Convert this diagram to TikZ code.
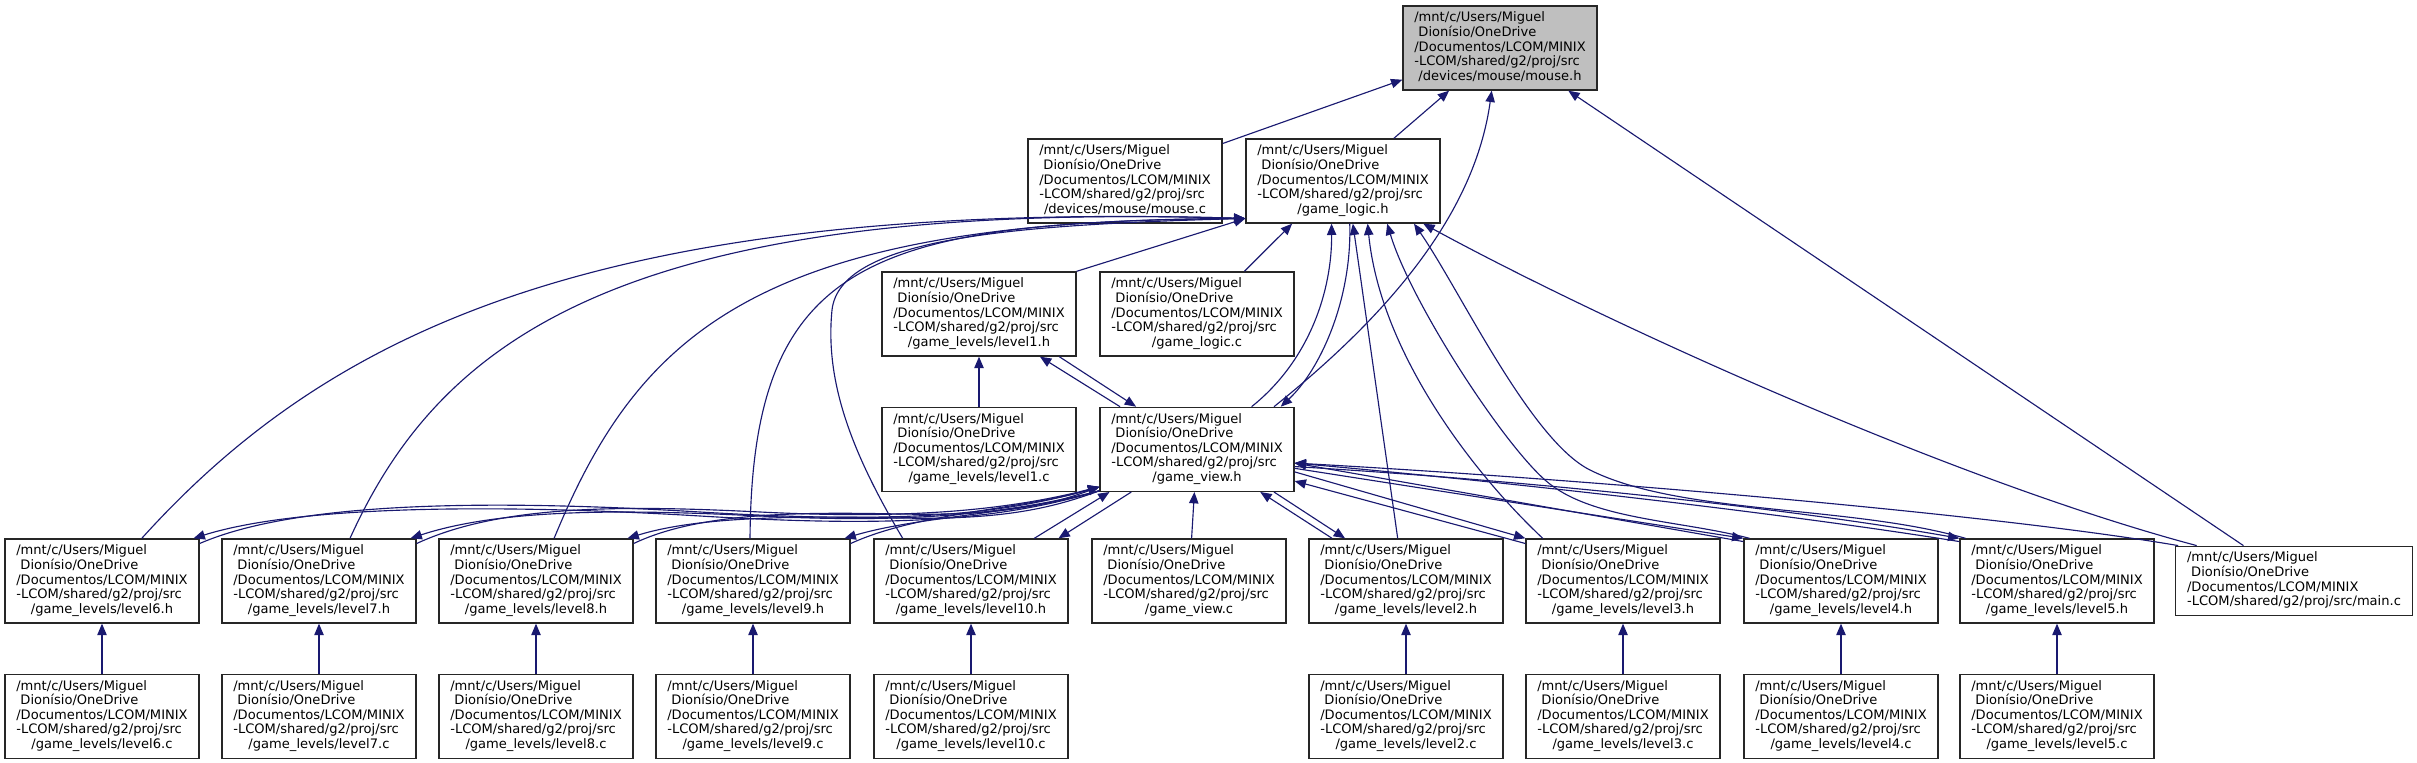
\documentclass[tikz,border=0pt]{standalone}
\usepackage{fontspec}
\usepackage{tikz}
\usetikzlibrary{arrows.meta, positioning}
\newfontfamily\dotfont{DejaVu Sans}
\definecolor{edgeblue}{RGB}{25,25,112}
\definecolor{rootgrey}{RGB}{191,191,191}
\newcommand{\srcpath}[1]{%
  \begin{tabular}{@{}l@{}}
    /mnt/c/Users/Miguel\\
    \ Dionísio/OneDrive\\
    /Documentos/LCOM/MINIX\\
    -LCOM/shared/g2/proj/src\\
    \multicolumn{1}{@{}c@{}}{#1}
  \end{tabular}}
\tikzset{
    filebox/.style={rectangle, draw=black!85, line width=0.9pt, fill=white,
                    inner xsep=8.5pt, inner ysep=4.2pt},
    rootbox/.style={filebox, fill=rootgrey},
    incarrow/.style={-{Triangle[length=8.5pt, width=7pt]}, draw=edgeblue,
                     line width=0.85pt},
}

\begin{document}
\begin{tikzpicture}[x=0.75pt, y=-0.75pt, font=\dotfont\fontsize{9.8pt}{10.9pt}\selectfont]
    \useasboundingbox (0,0) rectangle (2417,763);
    % upper part
    \node[rootbox] (mouseh) at (1500, 48) {\srcpath{/devices/mouse/mouse.h}};
    \node[filebox] (mousec) at (1125, 181) {\srcpath{/devices/mouse/mouse.c}};
    \node[filebox] (logich) at (1343, 181) {\srcpath{/game\_logic.h}};
    \node[filebox] (lvl1h) at (979, 314) {\srcpath{/game\_levels/level1.h}};
    \node[filebox] (logicc) at (1197, 314) {\srcpath{/game\_logic.c}};
    \node[filebox, below=37.5pt of lvl1h] (lvl1c) {\srcpath{/game\_levels/level1.c}};
    \node[filebox, below=37.5pt of logicc] (viewh) {\srcpath{/game\_view.h}};
    % level headers
    \node[filebox] (lvl6h) at (102, 581) {\srcpath{/game\_levels/level6.h}};
    \node[filebox] (lvl7h) at (319, 581) {\srcpath{/game\_levels/level7.h}};
    \node[filebox] (lvl8h) at (536, 581) {\srcpath{/game\_levels/level8.h}};
    \node[filebox] (lvl9h) at (753, 581) {\srcpath{/game\_levels/level9.h}};
    \node[filebox] (lvl10h) at (971, 581) {\srcpath{/game\_levels/level10.h}};
    \node[filebox] (viewc) at (1189, 581) {\srcpath{/game\_view.c}};
    \node[filebox] (lvl2h) at (1406, 581) {\srcpath{/game\_levels/level2.h}};
    \node[filebox] (lvl3h) at (1623, 581) {\srcpath{/game\_levels/level3.h}};
    \node[filebox] (lvl4h) at (1841, 581) {\srcpath{/game\_levels/level4.h}};
    \node[filebox] (lvl5h) at (2057, 581) {\srcpath{/game\_levels/level5.h}};
    \node[filebox] (mainc) at (2294, 581) {%
        \begin{tabular}{@{}l@{}}
          /mnt/c/Users/Miguel\\
          \ Dionísio/OneDrive\\
          /Documentos/LCOM/MINIX\\
          -LCOM/shared/g2/proj/src/main.c
        \end{tabular}};
    % level sources
    \node[filebox, below=37.5pt of lvl6h] (lvl6c) {\srcpath{/game\_levels/level6.c}};
    \node[filebox, below=37.5pt of lvl7h] (lvl7c) {\srcpath{/game\_levels/level7.c}};
    \node[filebox, below=37.5pt of lvl8h] (lvl8c) {\srcpath{/game\_levels/level8.c}};
    \node[filebox, below=37.5pt of lvl9h] (lvl9c) {\srcpath{/game\_levels/level9.c}};
    \node[filebox, below=37.5pt of lvl10h] (lvl10c) {\srcpath{/game\_levels/level10.c}};
    \node[filebox, below=37.5pt of lvl2h] (lvl2c) {\srcpath{/game\_levels/level2.c}};
    \node[filebox, below=37.5pt of lvl3h] (lvl3c) {\srcpath{/game\_levels/level3.c}};
    \node[filebox, below=37.5pt of lvl4h] (lvl4c) {\srcpath{/game\_levels/level4.c}};
    \node[filebox, below=37.5pt of lvl5h] (lvl5c) {\srcpath{/game\_levels/level5.c}};

    % includes of mouse.h
    \draw[incarrow] (mousec.21) -- (mouseh.198);
    \draw[incarrow] (logich.40) -- (mouseh.220);
    \draw[incarrow] (viewh.29) .. controls (1420,290) and (1478,190) .. (mouseh.259);
    \draw[incarrow] (mainc.145) -- (mouseh.328);
    % includes of game_logic.h
    \draw[incarrow] (lvl1h.north east) -- (logich.201);
    \draw[incarrow] (lvl6h.47) .. controls (330,330) and (600,200) .. (logich.201);
    \draw[incarrow] (lvl7h.54) .. controls (440,340) and (620,200) .. (logich.201);
    \draw[incarrow] (lvl8h.67) .. controls (640,330) and (760,220) .. (logich.201);
    \draw[incarrow] (lvl9h.94) .. controls (752,260) and (870,222) .. (logich.201);
    \draw[incarrow] (lvl10h.148) .. controls (850,450) and (825,380) .. (832,310)
                    .. controls (840,240) and (1000,225) .. (logich.201);
    \draw[incarrow] (logicc.42) -- (logich.220);
    \draw[incarrow] (viewh.38) .. controls (1310,360) and (1332,290) .. (logich.255);
    \draw[incarrow] (lvl2h.101) -- (logich.283);
    \draw[incarrow] (lvl3h.152) .. controls (1470,470) and (1380,350) .. (logich.300);
    \draw[incarrow] (lvl4h.155) .. controls (1680,520) and (1590,520) .. (1545,480)
                    .. controls (1500,440) and (1410,300) .. (logich.316);
    \draw[incarrow] (lvl5h.155) .. controls (1850,505) and (1680,515) .. (1590,470)
                    .. controls (1530,440) and (1460,290) .. (logich.329);
    \draw[incarrow] (mainc.160) .. controls (1950,480) and (1600,320) .. (logich.332);
    % game_view.h and the levels
    \draw[incarrow] (logich.279) .. controls (1352,300) and (1320,370) .. (viewh.27);
    \draw[incarrow] (viewh.151) -- (lvl1h.325);
    \draw[incarrow] (lvl1h.332) -- (viewh.145);
    \draw[incarrow] (lvl6h.21) .. controls (300,500) and (500,500) .. (700,512)
                    .. controls (900,524) and (1000,515) .. (viewh.201);
    \draw[incarrow] (viewh.203) .. controls (1000,520) and (900,528) .. (700,516)
                    .. controls (500,504) and (300,505) .. (lvl6h.25);
    \draw[incarrow] (lvl7h.21) .. controls (500,505) and (620,505) .. (760,512)
                    .. controls (900,519) and (1000,512) .. (viewh.201);
    \draw[incarrow] (viewh.203) .. controls (1000,516) and (900,523) .. (760,516)
                    .. controls (620,509) and (500,509) .. (lvl7h.25);
    \draw[incarrow] (lvl8h.21) .. controls (700,512) and (800,512) .. (900,514)
                    .. controls (1000,516) and (1050,505) .. (viewh.201);
    \draw[incarrow] (viewh.203) .. controls (1050,509) and (1000,520) .. (900,518)
                    .. controls (800,516) and (700,516) .. (lvl8h.25);
    \draw[incarrow] (lvl9h.21) .. controls (920,512) and (1020,510) .. (viewh.201);
    \draw[incarrow] (viewh.203) .. controls (1020,514) and (920,516) .. (lvl9h.25);
    \draw[incarrow] (lvl10h.34) -- (viewh.206);
    \draw[incarrow] (viewh.213) -- (lvl10h.26);
    \draw[incarrow] (viewc) -- (viewh);
    \draw[incarrow] (viewh.331) -- (lvl2h.145);
    \draw[incarrow] (lvl2h.150) -- (viewh.326);
    \draw[incarrow] (viewh.347) -- (lvl3h.north west);
    \draw[incarrow] (lvl3h.159) -- (viewh.342);
    \draw[incarrow] (viewh.349) -- (lvl4h.north west);
    \draw[incarrow] (lvl4h.158) -- (viewh.352);
    \draw[incarrow] (viewh.350) .. controls (1550,482) and (1800,510) .. (lvl5h.north west);
    \draw[incarrow] (lvl5h.158) .. controls (1800,516) and (1550,486) .. (viewh.352);
    \draw[incarrow] (mainc.163) .. controls (2000,515) and (1600,480) .. (viewh.352);
    % sources to headers
    \draw[incarrow] (lvl1c) -- (lvl1h);
    \draw[incarrow] (lvl6c) -- (lvl6h);
    \draw[incarrow] (lvl7c) -- (lvl7h);
    \draw[incarrow] (lvl8c) -- (lvl8h);
    \draw[incarrow] (lvl9c) -- (lvl9h);
    \draw[incarrow] (lvl10c) -- (lvl10h);
    \draw[incarrow] (lvl2c) -- (lvl2h);
    \draw[incarrow] (lvl3c) -- (lvl3h);
    \draw[incarrow] (lvl4c) -- (lvl4h);
    \draw[incarrow] (lvl5c) -- (lvl5h);
\end{tikzpicture}
\end{document}
